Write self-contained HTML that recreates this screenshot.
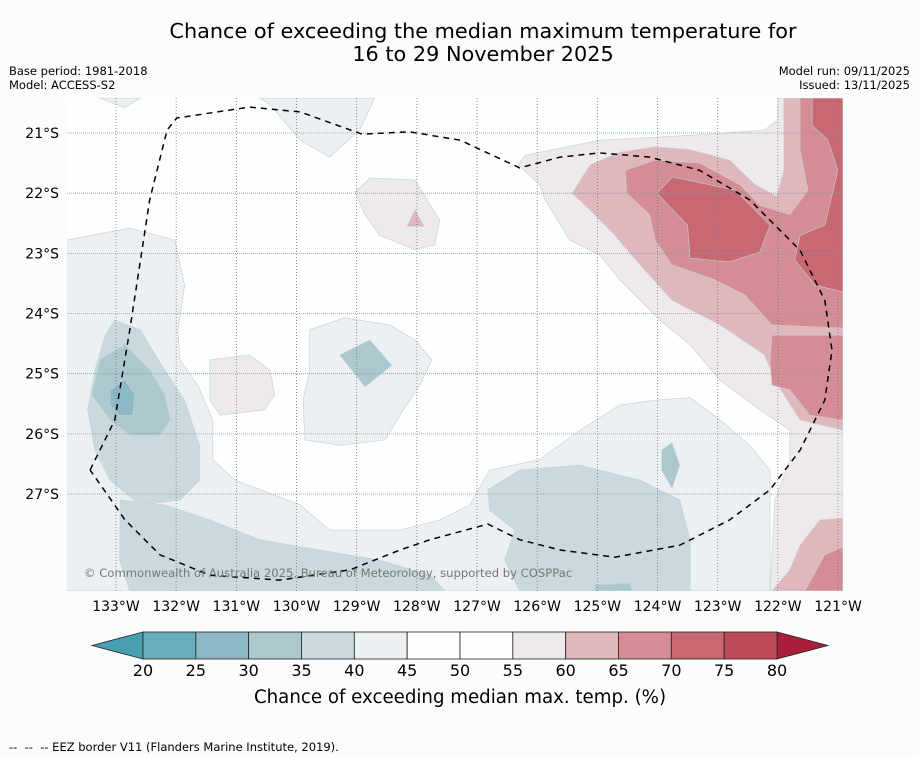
<!DOCTYPE html>
<html><head><meta charset="utf-8"><style>
body{margin:0;background:#fbfdfd;font-family:"DejaVu Sans","Liberation Sans",sans-serif}
svg{display:block}
</style></head><body>
<svg id="c" width="919" height="758" viewBox="0 0 919 758" font-family="DejaVu Sans, Liberation Sans, sans-serif">
<text x="483" y="38" font-size="20.8" text-anchor="middle">Chance of exceeding the median maximum temperature for</text>
<text x="483" y="61" font-size="20.8" text-anchor="middle">16 to 29 November 2025</text>
<text x="9" y="75" font-size="11.5">Base period: 1981-2018</text>
<text x="9" y="89" font-size="11.5">Model: ACCESS-S2</text>
<text x="910" y="75" font-size="11.5" text-anchor="end">Model run: 09/11/2025</text>
<text x="910" y="89" font-size="11.5" text-anchor="end">Issued: 13/11/2025</text>
<g id="map"></g>
<g id="cbar"></g>
<text x="460" y="703" font-size="18.2" text-anchor="middle">Chance of exceeding median max. temp. (%)</text>
<text x="9" y="751" font-size="11.5" xml:space="preserve" style="white-space:pre">--  --  -- EEZ border V11 (Flanders Marine Institute, 2019).</text>
</svg>
<script>
const lonTicks=[133,132,131,130,129,128,127,126,125,124,123,122,121];
const latTicks=[21,22,23,24,25,26,27];
const levels=[20,25,30,35,40,45,50,55,60,65,70,75,80];
const levelColors=["#6aadba","#8cb8c5","#abc8ce","#c9d9dd","#ebf0f2","#fdfefe","#fdfefe","#eeeaeb","#e0b7bc","#d48c95","#c96872","#be4a58"];
const contours=[
[40,[[133.82,22.78],[132.77,22.58],[132.02,22.78],[131.86,23.53],[131.97,24.27],[131.94,24.77],[131.64,25.19],[131.39,25.77],[131.39,26.43],[131.02,26.77],[129.94,27.18],[129.45,27.6],[128.28,27.6],[127.62,27.43],[127.12,27.18],[126.79,26.6],[125.96,26.43],[125.29,25.94],[124.63,25.52],[124.04,25.44],[123.46,25.4],[122.96,25.77],[122.47,26.19],[122.13,26.6],[122.13,28.61],[133.82,28.61]]],
[40,[[129.78,24.27],[129.2,24.07],[128.45,24.19],[128.03,24.44],[127.75,24.77],[127.95,25.19],[128.28,25.69],[128.53,26.1],[129.28,26.19],[129.86,26.1],[129.89,25.44],[129.78,24.94]]],
[40,[[130.61,20.42],[128.7,20.42],[128.95,20.95],[129.45,21.4],[129.94,21.12],[130.44,20.53]]],
[40,[[133.27,20.42],[132.6,20.42],[132.85,20.58]]],
[35,[[133.02,24.11],[132.6,24.27],[132.19,24.94],[131.86,25.44],[131.61,26.19],[131.61,26.77],[131.94,27.1],[132.6,27.18],[133.1,26.77],[133.35,26.27],[133.47,25.6],[133.35,24.94],[133.18,24.36]]],
[35,[[132.93,27.1],[132.19,27.18],[131.44,27.43],[130.61,27.76],[129.61,27.93],[128.62,28.1],[127.78,28.35],[127.53,28.61],[132.77,28.61],[132.94,28.1]]],
[35,[[126.82,26.93],[126.29,26.6],[125.29,26.52],[124.29,26.77],[123.63,27.1],[123.46,27.76],[123.46,28.61],[126.29,28.61],[126.54,28.1],[126.37,27.6],[126.79,27.27]]],
[30,[[133.27,24.77],[132.85,24.52],[132.44,24.94],[132.19,25.35],[132.1,25.77],[132.27,26.02],[132.77,26.02],[133.1,25.77],[133.4,25.35]]],
[30,[[129.28,24.69],[128.78,24.44],[128.42,24.86],[128.86,25.22]]],
[30,[[123.93,26.27],[123.76,26.15],[123.63,26.52],[123.76,26.9],[123.93,26.6]]],
[30,[[125.04,28.51],[124.46,28.48],[124.43,28.61],[125.04,28.61]]],
[25,[[133.1,25.27],[132.85,25.1],[132.69,25.35],[132.72,25.69],[132.94,25.69],[133.1,25.52]]],
[55,[[131.44,24.77],[130.78,24.69],[130.44,24.94],[130.36,25.35],[130.53,25.6],[131.27,25.69],[131.44,25.44]]],
[55,[[129.03,21.98],[128.78,21.75],[128.03,21.78],[127.62,22.45],[127.7,22.86],[128.03,22.94],[128.62,22.7],[128.86,22.36]]],
[60,[[128.16,22.55],[128.03,22.28],[127.88,22.55]]],
[55,[[120.92,20.42],[122.0,20.42],[122.0,20.78],[122.22,20.95],[123.3,21.03],[124.96,21.12],[126.2,21.37],[126.32,21.53],[125.96,21.86],[125.87,22.11],[125.46,22.78],[124.96,23.03],[124.63,23.44],[123.96,24.11],[123.46,24.52],[122.96,25.11],[122.3,25.6],[121.8,25.94],[121.8,26.43],[122.05,27.1],[122.13,28.61],[120.92,28.61]]],
[60,[[121.9,20.42],[121.9,21.62],[122.02,22.05],[122.38,21.86],[122.8,21.45],[123.46,21.28],[124.04,21.23],[124.63,21.32],[125.12,21.53],[125.42,22.0],[125.12,22.28],[124.71,22.7],[124.29,23.19],[123.76,23.78],[122.96,24.19],[122.22,24.69],[122.05,25.11],[121.63,25.77],[120.92,25.94],[120.92,20.42]]],
[60,[[120.92,27.4],[121.3,27.43],[121.63,27.85],[121.8,28.26],[122.1,28.61],[120.92,28.61]]],
[65,[[121.63,20.42],[121.63,21.28],[121.5,21.95],[121.8,22.36],[122.3,22.2],[122.63,21.86],[123.3,21.5],[124.04,21.45],[124.54,21.62],[124.51,22.0],[124.13,22.36],[124.04,22.78],[123.76,23.19],[123.05,23.44],[122.55,23.69],[122.1,24.19],[120.92,24.24],[120.92,20.42]]],
[65,[[122.1,24.36],[120.92,24.36],[120.92,25.77],[121.47,25.69],[121.8,25.27],[122.1,25.19],[122.13,24.77]]],
[65,[[120.92,27.88],[121.22,28.01],[121.55,28.61],[120.92,28.61]]],
[70,[[124.01,22.0],[123.75,21.73],[122.71,21.95],[122.13,22.53],[122.3,22.98],[122.8,23.14],[123.46,23.08],[123.5,22.53]]],
[70,[[121.43,20.42],[121.43,20.87],[121.17,21.12],[121.0,21.62],[121.22,22.53],[121.63,22.7],[121.72,23.11],[121.38,23.53],[120.92,23.64],[120.92,20.42]]]
];
const eezLon=[133.43,133.02,132.77,132.44,132.15,131.99,130.78,129.94,128.91,128.12,127.28,126.29,125.62,124.96,124.13,123.3,122.47,121.63,121.22,121.1,121.22,121.63,122.13,122.8,123.63,124.71,125.62,126.29,126.82,127.78,128.28,129.11,130.28,131.44,132.27,132.85,133.43];
const eezLat=[26.6,25.77,24.27,22.11,20.95,20.75,20.57,20.65,21.02,20.98,21.12,21.58,21.4,21.33,21.4,21.62,22.11,22.95,23.78,24.61,25.44,26.27,26.93,27.43,27.85,28.05,27.93,27.76,27.5,27.76,27.93,28.26,28.43,28.35,28.01,27.43,26.6];

const X=lon=>116+(133-lon)*60.17;
const Y=lat=>133+(lat-21)*60.17;
const NS="http://www.w3.org/2000/svg";
function mk(t,a,p){const e=document.createElementNS(NS,t);for(const k in a)e.setAttribute(k,a[k]);p.appendChild(e);return e;}
const map=document.getElementById('map');
const L=67,R=843,T=98,B=591;
const defs=mk('defs',{},map);
const cp=mk('clipPath',{id:'clip'},defs);
mk('rect',{x:L,y:T,width:R-L,height:B-T},cp);
const bg=mk('rect',{x:L,y:T,width:R-L,height:B-T,fill:'#fdfefe'},map);


const cg=mk('g',{'clip-path':'url(#clip)'},map);
contours.forEach((c,i)=>{
  const idx=levels.indexOf(c[0]);
  const p=mk('polygon',{points:c[1].map(q=>X(q[0]).toFixed(1)+','+Y(q[1]).toFixed(1)).join(' '),fill:levelColors[idx],stroke:'#c3d0d4','stroke-width':0.6},cg);
  
  
});
lonTicks.forEach(v=>{
  const x=X(v);
  const g=mk('line',{x1:x,x2:x,y1:T,y2:B,stroke:'#777','stroke-width':0.8,'stroke-dasharray':'1,2'},cg);
  
  
  const t=mk('text',{x:x,y:611,'font-size':14,'text-anchor':'middle'},map);
  t.textContent=v+'°W';
  
  
});
latTicks.forEach(v=>{
  const y=Y(v);
  const g=mk('line',{x1:L,x2:R,y1:y,y2:y,stroke:'#8a9aa0','stroke-width':0.8,'stroke-dasharray':'1,1'},cg);
  
  
  const t=mk('text',{x:59,y:y+5,'font-size':14,'text-anchor':'end'},map);
  t.textContent=v+'°S';
  
  
});
const eez=mk('polyline',{points:eezLon.map((v,i)=>X(v).toFixed(1)+','+Y(eezLat[i]).toFixed(1)).join(' '),fill:'none',stroke:'#000','stroke-width':1.5,'stroke-dasharray':'6,5'},cg);


const cr=mk('text',{x:84,y:577,'font-size':11.6,fill:'#777'},map);
cr.textContent='© Commonwealth of Australia 2025, Bureau of Meteorology, supported by COSPPac';



const cb=document.getElementById('cbar');
const C0=143,C1=777,CT=632,CB=659;
const cx=v=>C0+(v-20)/60*(C1-C0);
const lt=mk('polygon',{points:`${C0},${CT} ${C0},${CB} 92,645.5`,fill:'#46a0b0',stroke:'#222','stroke-width':0.8},cb);


const rt=mk('polygon',{points:`${C1},${CT} ${C1},${CB} 828,645.5`,fill:'#ab1e3a',stroke:'#222','stroke-width':0.8},cb);


for(let i=0;i<levelColors.length;i++){
  const r=mk('rect',{x:cx(levels[i]),y:CT,width:cx(levels[i+1])-cx(levels[i]),height:CB-CT,fill:levelColors[i],stroke:'#222','stroke-width':0.8},cb);
  
  
}
levels.forEach(v=>{
  const t=mk('text',{x:cx(v),y:676,'font-size':16,'text-anchor':'middle'},cb);
  t.textContent=v;
  
  
});
</script>
</body></html>
